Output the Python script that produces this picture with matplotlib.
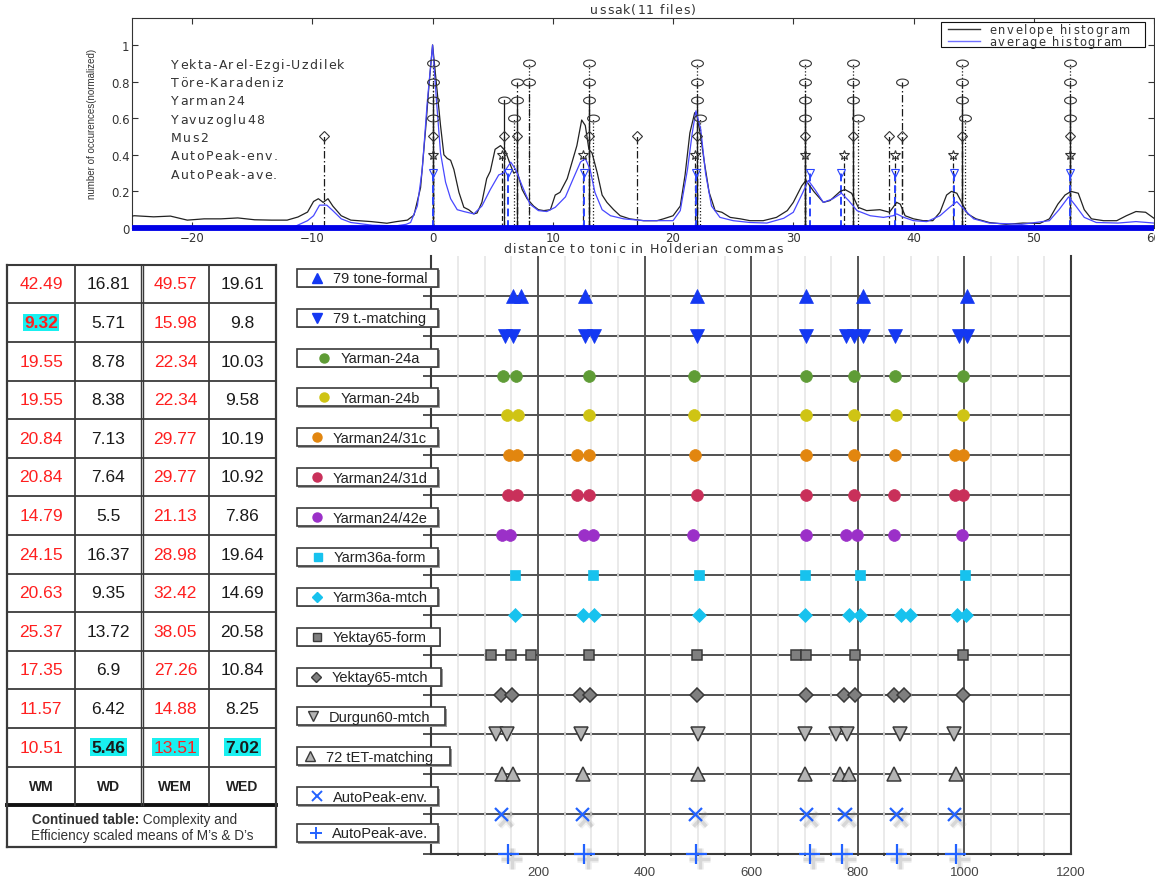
import numpy as np
import matplotlib
matplotlib.use('Agg')
import matplotlib.pyplot as plt
from matplotlib.path import Path
from matplotlib.patches import Rectangle
import matplotlib.patheffects as pe
from matplotlib import font_manager
from matplotlib.font_manager import FontProperties, findfont, get_font

# ---------------- top panel data (distance to tonic, Holderian commas) ----------------
env_x = [-25, -24.8, -23.2, -21.8, -20.4, -19, -17.6, -16.2, -14.8, -13.4, -12.1, -11.2, -10.4,
         -9.9, -9.5, -9.1, -8.7, -8.3, -7.6, -6.8, -5.1, -3.8, -3.0, -2.1, -1.55, -1.0, -0.58,
         -0.3, 0, 0.33, 0.66, 0.94, 1.22, 1.5, 1.77, 2.19, 2.6, 3.0, 3.43, 3.7, 4.1, 4.5, 4.8,
         5.2, 5.65, 6.06, 6.5, 6.75, 7.03, 7.45, 7.86, 8.4, 8.8, 9.25, 9.8, 10.2, 10.6, 11.2,
         11.6, 12.0, 12.4, 12.7, 13.0, 13.26, 13.7, 14.1, 14.5, 15.06, 15.6, 16.4, 17.55, 18.66,
         19.2, 20.0, 20.6, 21.0, 21.4, 21.8, 22.0, 22.3, 22.6, 23.0, 23.5, 24.06, 24.75, 25.6,
         26.4, 27.5, 28.6, 29.5, 30.0, 30.7, 31.05, 31.7, 32.5, 33.06, 33.9, 34.3, 34.85, 35.4,
         36.1, 37.2, 38.0, 38.6, 38.9, 39.3, 40.0, 40.8, 41.6, 42.2, 42.75, 43.15, 43.6, 44.0,
         44.5, 45.2, 46.3, 47.7, 49.1, 50.5, 51.3, 52.0, 52.6, 53.1, 53.7, 54.2, 54.8, 55.8,
         56.9, 57.7, 58.5, 59.3, 60]
env_y = [0.065, 0.067, 0.061, 0.065, 0.043, 0.05, 0.05, 0.055, 0.045, 0.043, 0.043, 0.06, 0.087,
         0.145, 0.16, 0.14, 0.16, 0.12, 0.067, 0.043, 0.035, 0.026, 0.035, 0.043, 0.07, 0.22, 0.54,
         0.78, 1.0, 0.78, 0.56, 0.40, 0.38, 0.37, 0.32, 0.195, 0.113, 0.10, 0.077, 0.082, 0.14, 0.27,
         0.31, 0.43, 0.45, 0.42, 0.34, 0.30, 0.31, 0.21, 0.16, 0.12, 0.10, 0.095, 0.10, 0.18, 0.195,
         0.27, 0.36, 0.45, 0.59, 0.56, 0.43, 0.41, 0.30, 0.18, 0.14, 0.10, 0.067, 0.05, 0.04, 0.04,
         0.05, 0.067, 0.12, 0.29, 0.52, 0.63, 0.61, 0.50, 0.36, 0.195, 0.095, 0.086, 0.058, 0.05,
         0.04, 0.04, 0.058, 0.095, 0.14, 0.23, 0.26, 0.20, 0.14, 0.15, 0.20, 0.21, 0.19, 0.113,
         0.095, 0.10, 0.086, 0.14, 0.13, 0.067, 0.05, 0.04, 0.04, 0.086, 0.18, 0.20, 0.19, 0.14,
         0.077, 0.05, 0.03, 0.02, 0.027, 0.025, 0.05, 0.13, 0.18, 0.20, 0.19, 0.10, 0.05, 0.04,
         0.04, 0.067, 0.09, 0.086, 0.053]

avg_x = [-25, -12, -11.4, -10.4, -9.9, -9.4, -8.8, -8.3, -7.6, -6.8, -5, -3, -2.2, -1.83, -1.27,
         -0.86, -0.44, 0, 0.33, 0.66, 1.08, 1.5, 2.05, 2.6, 3.43, 4.1, 4.8, 5.5, 5.9, 6.5, 6.9,
         7.45, 8.1, 8.8, 9.5, 10.2, 11.05, 11.7, 12.3, 12.7, 13.1, 13.5, 14.1, 14.8, 15.9, 17.55,
         18.7, 20.0, 20.6, 21.2, 21.6, 21.9, 22.3, 22.7, 23.2, 23.9, 25.0, 26.4, 27.8, 29.2, 30.0,
         30.8, 31.25, 31.8, 32.5, 33.3, 34.0, 34.6, 35.3, 36.4, 37.5, 38.3, 38.6, 39.2, 40.0, 41.1,
         42.2, 43.0, 43.6, 44.3, 45.0, 46.3, 49.0, 51.3, 52.1, 52.9, 53.5, 54.2, 55.2, 57.0, 58.5, 60]
avg_y = [0.005, 0.005, 0.01, 0.04, 0.067, 0.125, 0.125, 0.095, 0.05, 0.03, 0.015, 0.012, 0.02,
         0.03, 0.12, 0.32, 0.69, 1.0, 0.69, 0.41, 0.25, 0.16, 0.10, 0.09, 0.077, 0.12, 0.21, 0.29,
         0.30, 0.36, 0.32, 0.23, 0.13, 0.095, 0.09, 0.113, 0.17, 0.27, 0.36, 0.38, 0.32, 0.195, 0.10,
         0.067, 0.05, 0.04, 0.04, 0.04, 0.095, 0.32, 0.52, 0.64, 0.54, 0.30, 0.12, 0.058, 0.04, 0.03,
         0.027, 0.053, 0.086, 0.195, 0.26, 0.21, 0.14, 0.16, 0.19, 0.15, 0.095, 0.067, 0.058, 0.067,
         0.077, 0.058, 0.04, 0.035, 0.067, 0.113, 0.144, 0.095, 0.05, 0.027, 0.02, 0.04, 0.10, 0.17,
         0.12, 0.058, 0.03, 0.027, 0.035, 0.027]

theory_names = ['Yekta-Arel-Ezgi-Uzdilek', 'Töre-Karadeniz', 'Yarman24', 'Yavuzoglu48', 'Mus2',
                'AutoPeak-env.', 'AutoPeak-ave.']
theory_levels = [0.9, 0.8, 0.7, 0.6, 0.5, 0.4, 0.3]
yekta_pos = [0, 8, 13, 22, 31, 35, 44, 53]
tore_pos = [0, 7, 8, 13, 22, 31, 35, 39, 44, 53]
yarman24_pos = [0, 5.9, 7, 13, 22, 31, 35, 44, 53]
yavuz_pos = [0, 6.8, 13.3, 22.2, 31, 35.4, 44.3, 53]
mus2_pos = [-9, 0, 5.9, 7, 13, 17, 22, 31, 35, 38, 39, 44, 53]
apenv_pos = [0, 5.8, 12.5, 21.8, 31.0, 34.2, 38.5, 43.3, 53]
apave_pos = [0, 6.3, 12.6, 21.9, 31.4, 34.0, 38.5, 43.4, 53]
theory_pos = [yekta_pos, tore_pos, yarman24_pos, yavuz_pos, mus2_pos, apenv_pos, apave_pos]
legend_labels = ['envelope histogram', 'average histogram']

# ---------------- table data ----------------
col_headers = ['WM', 'WD', 'WEM', 'WED']
wm = ['42.49', '9.32', '19.55', '19.55', '20.84', '20.84', '14.79', '24.15', '20.63', '25.37', '17.35', '11.57', '10.51']
wd = ['16.81', '5.71', '8.78', '8.38', '7.13', '7.64', '5.5', '16.37', '9.35', '13.72', '6.9', '6.42', '5.46']
wem = ['49.57', '15.98', '22.34', '22.34', '29.77', '29.77', '21.13', '28.98', '32.42', '38.05', '27.26', '14.88', '13.51']
wed = ['19.61', '9.8', '10.03', '9.58', '10.19', '10.92', '7.86', '19.64', '14.69', '20.58', '10.84', '8.25', '7.02']
highlight = {(0, 1), (1, 12), (2, 12), (3, 12)}   # (column, row) cells with cyan background
bold_cells = {(0, 1), (1, 12), (3, 12)}

# ---------------- bottom panel data (cents) ----------------
row_labels = ['79 tone-formal', '79 t.-matching', 'Yarman-24a', 'Yarman-24b', 'Yarman24/31c',
              'Yarman24/31d', 'Yarman24/42e', 'Yarm36a-form', 'Yarm36a-mtch', 'Yektay65-form',
              'Yektay65-mtch', 'Durgun60-mtch', '72 tET-matching', 'AutoPeak-env.', 'AutoPeak-ave.']
row_values = [
    [153, 168, 288, 498, 703, 809, 1004],
    [138, 153, 288, 305, 499, 703, 778, 793, 809, 869, 989, 1004],
    [134, 158, 296, 493, 703, 792, 869, 997],
    [142, 162, 296, 493, 703, 792, 871, 997],
    [146, 161, 274, 296, 495, 703, 792, 869, 982, 998],
    [144, 160, 274, 296, 499, 703, 792, 867, 982, 998],
    [132, 148, 287, 303, 491, 703, 777, 799, 867, 996],
    [156, 304, 503, 700, 804, 1001],
    [156, 285, 305, 503, 700, 784, 804, 881, 897, 986, 1003],
    [112, 149, 187, 296, 499, 684, 703, 794, 997],
    [131, 151, 278, 298, 499, 702, 775, 794, 867, 887, 997],
    [121, 141, 281, 501, 701, 759, 780, 879, 981],
    [133, 153, 285, 501, 701, 767, 784, 867, 984],
    [132, 283, 496, 704, 776, 873, 981],
    [144, 287, 497, 710, 771, 873, 984],
]
row_markers = ['^', 'v', 'o', 'o', 'o', 'o', 'o', 's', 'D', 's', 'D', 'v', '^', 'x', '+']
row_colors = ['#1438f2', '#1438f2', '#5f9c36', '#cfc414', '#e2860f', '#c9305a', '#9b30c8',
              '#17c2ee', '#17c2ee', '#7f7f7f', '#7f7f7f', '#b4b4b4', '#b4b4b4', '#2262ff', '#2262ff']
row_ms = [10, 10, 8.5, 8.5, 8.5, 8.5, 8.5, 7.5, 7, 7.5, 7, 10, 10, 9.5, 15]
legend_ms = [7, 7, 6.5, 6.5, 6.5, 6.5, 6.5, 6, 5, 6, 5, 7, 7, 7, 9]
box_right = [438.3] * 9 + [439.5, 441, 445, 450, 438.3, 438.3]

# ---------------- figure ----------------
W, H = 1155, 879
fig = plt.figure(figsize=(W / 100, H / 100), dpi=100)
fig.patch.set_facecolor('white')

names = {f.name for f in font_manager.fontManager.ttflist}
SANS = 'Liberation Sans' if 'Liberation Sans' in names else 'DejaVu Sans'
NARROW = 'Liberation Sans Narrow' if 'Liberation Sans Narrow' in names else SANS
TOPF = 'DejaVu Sans'


def fa(l, t, r, b):
    return [l / W, 1 - b / H, (r - l) / W, (b - t) / H]


def spaced(ax, x, y, s, size=9, spacing=1.2, ha='left', color='#333333', family=TOPF, zorder=20):
    """Letter-spaced text (MATLAB-like rendering) in pixel coordinates; y is the visual centre."""
    font = get_font(findfont(FontProperties(family=family, size=size)))
    font.set_size(size, 100)
    adv = []
    for ch in s:
        g = font.load_char(ord(ch))
        adv.append(g.linearHoriAdvance / 65536)
    total = sum(adv) + spacing * (len(s) - 1)
    x0 = x - total / 2 if ha == 'center' else x
    base = y + 0.5 * 0.73 * size * 100 / 72
    cx = x0
    for ch, a in zip(s, adv):
        if ch != ' ':
            ax.text(cx, base, ch, ha='left', va='baseline', fontsize=size, family=family,
                    color=color, zorder=zorder)
        cx += a + spacing


# ======== top panel ========
ax1 = fig.add_axes(fa(132, 18.5, 1154, 229))
ax1.set_xlim(-25, 60)
ax1.set_ylim(0, 1.15)

ell_t = np.linspace(0, 2 * np.pi, 41)
ellipse = Path(np.column_stack([np.cos(ell_t), 0.58 * np.sin(ell_t)]), closed=True)

stem_styles = [(0, (1, 1.6)), (0, (6, 2, 1.2, 2)), '-', (0, (1, 1.6)), (0, (6, 2, 1.2, 2)),
               (0, (4, 2)), (0, (4, 2))]
stem_colors = ['#1a1a1a'] * 6 + ['#2a44ff']
stem_lw = [0.9] * 6 + [1.4]
mk_styles = [ellipse, ellipse, ellipse, ellipse, 'D', '*', 'v']
mk_sizes = [8.5, 8.5, 8.5, 8.5, 5, 7, 6]
for pos, lev, ls, c, lw, mk, ms in zip(theory_pos, theory_levels, stem_styles, stem_colors,
                                      stem_lw, mk_styles, mk_sizes):
    for p in pos:
        ax1.plot([p, p], [0, lev], color=c, lw=lw, ls=ls, zorder=2)
    ax1.plot(pos, [lev] * len(pos), ls='none', marker=mk, ms=ms, mfc='none',
             mec=('#2a44ff' if c != '#1a1a1a' else '#333333'), mew=0.8, zorder=4)

l_env, = ax1.plot(env_x, env_y, color='#222222', lw=0.9, zorder=3)
l_avg, = ax1.plot(avg_x, avg_y, color='#4848ff', lw=0.9, zorder=3)
ax1.plot([-25, 60], [0, 0], color='#0000e6', lw=4.2, solid_capstyle='butt', clip_on=False, zorder=5)

ax1.set_xticks(range(-20, 61, 10))
ax1.set_yticks([0, 0.2, 0.4, 0.6, 0.8, 1.0])
ax1.set_yticklabels(['0', '0.2', '0.4', '0.6', '0.8', '1'])
ax1.tick_params(direction='in', top=True, right=True, length=4, width=0.8, labelsize=8.5,
                pad=1.8, labelcolor='#333333', color='#333333')
for lab in ax1.get_xticklabels() + ax1.get_yticklabels():
    lab.set_family(TOPF)
for s in ax1.spines.values():
    s.set_linewidth(0.8)
    s.set_color('#333333')
ax1.set_ylabel('number of occurences(normalized)', fontsize=7, family=NARROW, color='#333333')
ax1.yaxis.set_label_coords(-0.034, 0.5)

# ======== bottom panel ========
ax2 = fig.add_axes(fa(431.4, 257, 1071, 855))
ax2.set_xlim(0, 1200)
ax2.set_ylim(0, 15)
ax2.set_xticks([200, 400, 600, 800, 1000, 1200])
ax2.set_xticklabels(['200', '400', '600', '800', '1000', '1200'])
grid_minor = np.arange(50, 1200, 50)
ax2.set_xticks(grid_minor, minor=True)
ax2.grid(which='minor', axis='x', color='#e6e6e6', lw=1.2, zorder=0)
ax2.grid(which='major', axis='x', color='#555555', lw=1.4, zorder=0.5)
ax2.tick_params(axis='x', which='both', length=0, pad=9, labelsize=9.5, labelcolor='#444444')
for lab in ax2.get_xticklabels():
    lab.set_family(SANS)
row_y = [14 - i for i in range(len(row_labels))]
ax2.set_yticks(row_y)
ax2.tick_params(axis='y', direction='out', length=6, width=1.1, color='#222222', labelleft=False)
ax2.spines['top'].set_visible(False)
for k in ['left', 'right', 'bottom']:
    ax2.spines[k].set_color('#3a3a3a')
    ax2.spines[k].set_linewidth(1.5)
for y in row_y:
    ax2.axhline(y, color='#222222', lw=1.1, zorder=1)
    ax2.plot(grid_minor, [y] * len(grid_minor), ls='none', marker='|', ms=3.5, mew=1.2,
             color='#333333', zorder=1.5, clip_on=False)

shadow = [pe.Stroke(offset=(2.5, -3.5), linewidth=5, foreground='#888888', alpha=0.12),
          pe.Stroke(offset=(2.5, -3.5), linewidth=2.5, foreground='#777777', alpha=0.2),
          pe.Normal()]
for y, vals, m, c, ms in zip(row_y, row_values, row_markers, row_colors, row_ms):
    kw = dict(ls='none', marker=m, ms=ms, zorder=5, clip_on=False)
    if m in ('x', '+'):
        ax2.plot(vals, [y] * len(vals), color=c, mew=1.6, path_effects=shadow, **kw)
    elif c in ('#7f7f7f', '#b4b4b4'):
        ax2.plot(vals, [y] * len(vals), mfc=c, mec='#3a3a3a', mew=1.1, **kw)
    else:
        ax2.plot(vals, [y] * len(vals), mfc=c, mec=c, mew=0.5, **kw)

# ======== overlay (pixel coordinates) ========
ov = fig.add_axes([0, 0, 1, 1], zorder=10)
ov.set_xlim(0, W)
ov.set_ylim(H, 0)
ov.axis('off')


def ax1_px(x, y):
    d = ax1.transData.transform((x, y))
    return d[0], H - d[1]


# --- top-panel texts with MATLAB-like letter spacing ---
for name, lev in zip(theory_names, theory_levels):
    px, py = ax1_px(-21.75, lev)
    spaced(ov, px, py, name, size=9, spacing=1.3)
top_l, top_t = ax1_px(-25, 1.15)
top_r, top_b = ax1_px(60, 0)
spaced(ov, (top_l + top_r) / 2, top_t - 9.5, 'ussak(11 files)', size=9, spacing=1.0, ha='center')
spaced(ov, (top_l + top_r) / 2, top_b + 19.5, 'distance to tonic in Holderian commas', size=9,
       spacing=1.05, ha='center')

# manual legend box (upper right of the top panel)
lg_l, lg_r = top_r - 213, top_r - 9
lg_t, lg_b = top_t + 4.5, top_t + 29
ov.add_patch(Rectangle((lg_l, lg_t), lg_r - lg_l, lg_b - lg_t, fc='white', ec='#111111',
                       lw=0.8, zorder=15))
for lab, col, dy in zip(legend_labels, ['#333333', '#7070ff'], [6.5, 18.5]):
    ov.plot([lg_l + 7, lg_l + 39], [lg_t + dy, lg_t + dy], color=col, lw=1.0, zorder=16)
    spaced(ov, lg_l + 48.5, lg_t + dy, lab, size=8.3, spacing=1.5)

# --- table ---
col_x = [7.3, 75, 141.7, 209, 275.7]
row_top = 265.7
rh = 38.6
n_rows = len(wm) + 1
tab_bottom = row_top + n_rows * rh
cap_bottom = 848.3
lc = '#3a3a3a'
for k in range(n_rows):
    yy = row_top + k * rh
    ov.plot([col_x[0], col_x[-1]], [yy, yy], color=lc, lw=1.5 if k == 0 else 1.3)
ov.plot([col_x[0], col_x[-1]], [tab_bottom, tab_bottom], color='#111111', lw=2.8)
ov.plot([col_x[0], col_x[-1]], [cap_bottom, cap_bottom], color=lc, lw=1.6)
ov.plot([col_x[0], col_x[0]], [row_top, cap_bottom], color=lc, lw=1.6)
ov.plot([col_x[-1], col_x[-1]], [row_top, cap_bottom], color=lc, lw=1.6)
for cx in [col_x[1], col_x[3]]:
    ov.plot([cx, cx], [row_top, tab_bottom], color=lc, lw=1.3)
for cx in [col_x[2] - 1.1, col_x[2] + 1.1]:
    ov.plot([cx, cx], [row_top, tab_bottom], color=lc, lw=1.0)

columns = [wm, wd, wem, wed]
col_colors = ['#ff1f1f', '#1a1a1a', '#ff1f1f', '#1a1a1a']
for ci, (col, cc) in enumerate(zip(columns, col_colors)):
    xc = (col_x[ci] + col_x[ci + 1]) / 2
    for ri, v in enumerate(col):
        yc = row_top + (ri + 0.5) * rh
        kw = dict(ha='center', va='center', fontsize=12.5, family=SANS, color=cc)
        if (ci, ri) in bold_cells:
            kw['fontweight'] = 'bold'
        if (ci, ri) in highlight:
            kw['bbox'] = dict(boxstyle='square,pad=0.08', fc='#19f0f0', ec='none')
        ov.text(xc, yc, v, **kw)
    ov.text(xc, row_top + (len(col) + 0.5) * rh, col_headers[ci], ha='center', va='center',
            fontsize=10, fontweight='bold', family=SANS, color='#222222')

renderer = fig.canvas.get_renderer()
t1 = ov.text(32, 820, 'Continued table:', ha='left', va='center', fontsize=9.8,
             fontweight='bold', family=SANS, color='#333333')
bb = t1.get_window_extent(renderer)
x_end = ov.transData.inverted().transform((bb.x1, bb.y0))[0]
ov.text(x_end, 820, ' Complexity and', ha='left', va='center', fontsize=9.8, family=SANS,
        color='#333333')
ov.text(31, 836.5, 'Efficiency scaled means of M’s & D’s', ha='left', va='center', fontsize=9.8,
        family=SANS, color='#333333')

# --- legend boxes next to bottom panel rows ---
box_left = 296.7
box_h = 18
text_cx = 380
for i, (lab, m, c, ms, br) in enumerate(zip(row_labels, row_markers, row_colors, legend_ms, box_right)):
    ypix = H - ax2.transData.transform((0, row_y[i]))[1]
    cy = ypix - (21 if i == len(row_labels) - 1 else 18)
    ov.add_patch(Rectangle((box_left + 1.6, cy - box_h / 2 + 1.6), br - box_left, box_h,
                           fc='#9a9a9a', ec='none', zorder=1))
    ov.add_patch(Rectangle((box_left, cy - box_h / 2), br - box_left, box_h,
                           fc='white', ec='#3a3a3a', lw=1.2, zorder=2))
    tt = ov.text(text_cx, cy + 0.5, lab, ha='center', va='center', fontsize=10.5, family=SANS,
                 color='#222222', zorder=3)
    tb = tt.get_window_extent(renderer)
    tleft = ov.transData.inverted().transform((tb.x0, tb.y0))[0]
    mx = tleft - 16
    if m in ('x', '+'):
        ov.plot([mx], [cy], ls='none', marker=m, ms=ms, color=c, mew=1.4, zorder=3)
    elif c in ('#7f7f7f', '#b4b4b4'):
        ov.plot([mx], [cy], ls='none', marker=m, ms=ms, mfc=c, mec='#3a3a3a', mew=1.0, zorder=3)
    else:
        ov.plot([mx], [cy], ls='none', marker=m, ms=ms, mfc=c, mec=c, zorder=3)

fig.savefig('out.png', dpi=100, facecolor='white')
